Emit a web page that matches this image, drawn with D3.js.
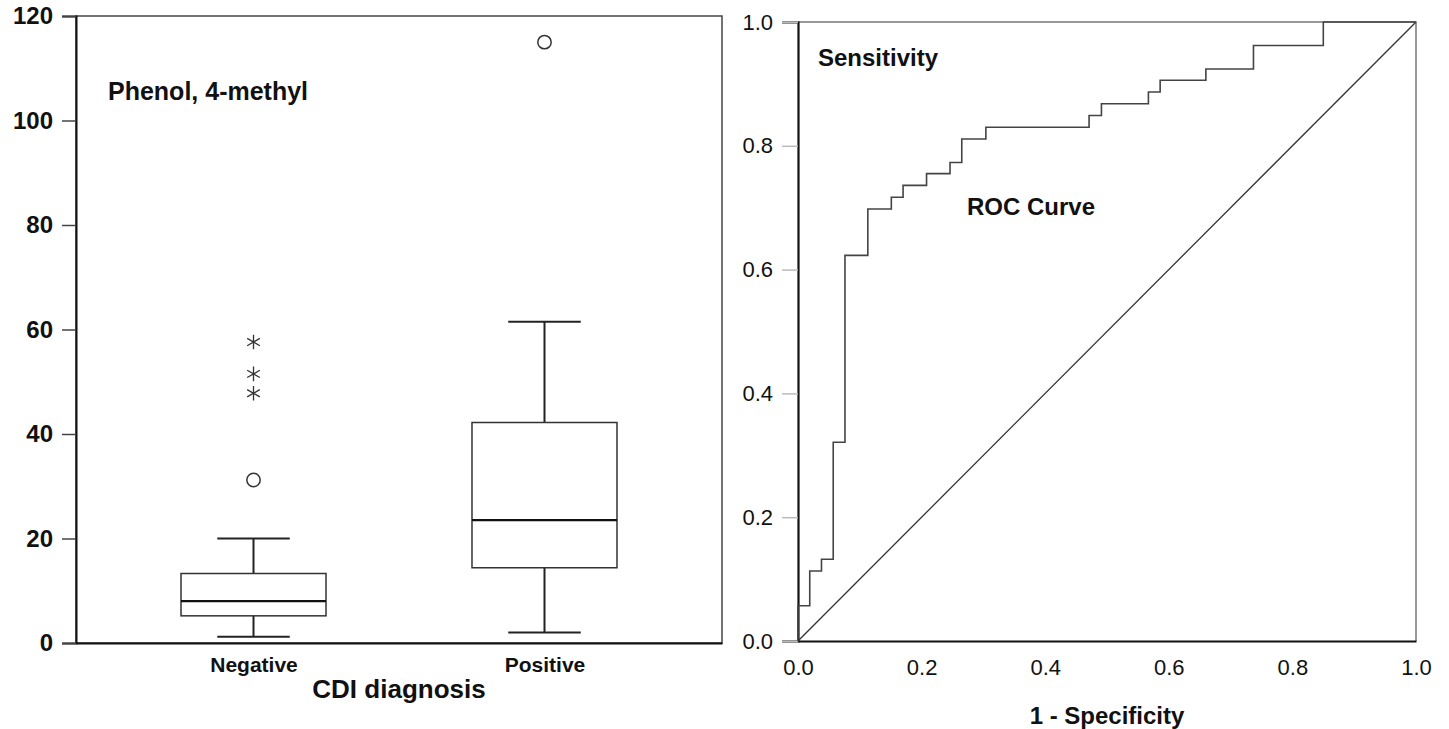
<!DOCTYPE html>
<html lang="en">
<head>
    <meta charset="UTF-8">
    <script src="https://cdn.jsdelivr.net/npm/d3@7"></script>
    <title>Phenol, 4-methyl: box plot and ROC curve</title>
    <style>
        body {
            margin: 0;
            background: white;
        }

        svg text {
            font-family: 'Liberation Sans', Arial, sans-serif;
            fill: #111;
        }
    </style>
</head>

<body>
<div class="chart"></div>

<script>
    // Box plot values (CDI diagnosis groups)
    const groups = ["Negative", "Positive"];
    const whiskerLow = [1.2, 2.0];
    const quartile1 = [5.2, 14.4];
    const medians = [8.0, 23.5];
    const quartile3 = [13.3, 42.2];
    const whiskerHigh = [20.0, 61.5];

    // Outliers: circles = outliers, stars = extremes
    const outlierGroup = ["Negative", "Negative", "Negative", "Negative", "Positive"];
    const outlierValue = [31.2, 47.8, 51.5, 57.6, 115.0];
    const outlierKind = ["circle", "star", "star", "star", "circle"];

    const boxTicks = [0, 20, 40, 60, 80, 100, 120];

    // ROC curve corners: each sensitivity level and the 1 - specificity where it ends
    const rocFpr = [0, 0.019, 0.038, 0.057, 0.076, 0.113, 0.151, 0.170, 0.208, 0.246, 0.265, 0.304,
        0.471, 0.491, 0.567, 0.586, 0.660, 0.737, 0.850, 1.0];
    const rocTpr = [0, 0.057, 0.113, 0.132, 0.321, 0.623, 0.698, 0.717, 0.736, 0.755, 0.773, 0.811,
        0.830, 0.849, 0.868, 0.887, 0.906, 0.924, 0.962, 1.0];

    const rocTicks = [0, 0.2, 0.4, 0.6, 0.8, 1.0];

    const width = 1449;
    const height = 729;

    const svg = d3.select(".chart").append("svg")
        .attr("width", width)
        .attr("height", height);

    /*----------------- [BOX PLOT] START -----------------*/
    const box = {left: 76, right: 722, top: 16, bottom: 643};

    const x1 = d3.scalePoint()
        .domain(groups)
        .range([box.left, box.right])
        .padding(0.61);

    const y1 = d3.scaleLinear()
        .domain([0, 120])
        .range([box.bottom, box.top]);

    const boxWidth = 145;

    // frame
    svg.append("rect")
        .attr("x", box.left)
        .attr("y", box.top)
        .attr("width", box.right - box.left)
        .attr("height", box.bottom - box.top)
        .attr("fill", "none")
        .attr("stroke", "#444")
        .attr("stroke-width", 1.5);

    const yAxis1 = svg.append("g")
        .attr("transform", `translate(${box.left},0)`)
        .call(d3.axisLeft(y1).tickValues(boxTicks).tickSize(14).tickPadding(9).tickFormat(d3.format("d")));
    yAxis1.select(".domain").attr("stroke", "#111").attr("stroke-width", 2);
    yAxis1.selectAll(".tick line").attr("stroke", "#444").attr("stroke-width", 1.5);
    yAxis1.selectAll(".tick text")
        .style("font-size", "24px")
        .style("font-weight", "bold");

    const xAxis1 = svg.append("g")
        .attr("transform", `translate(0,${box.bottom})`)
        .call(d3.axisBottom(x1).tickSize(0).tickPadding(14));
    xAxis1.select(".domain").attr("stroke", "#111").attr("stroke-width", 2);
    xAxis1.selectAll(".tick text")
        .style("font-size", "21px")
        .style("font-weight", "bold");

    const boxData = groups.map((g, i) => ({
        group: g, lo: whiskerLow[i], q1: quartile1[i], med: medians[i], q3: quartile3[i], hi: whiskerHigh[i]
    }));

    const boxes = svg.selectAll(".box")
        .data(boxData)
        .enter()
        .append("g")
        .attr("class", "box");

    // whisker stems
    boxes.append("line")
        .attr("x1", d => x1(d.group)).attr("x2", d => x1(d.group))
        .attr("y1", d => y1(d.lo)).attr("y2", d => y1(d.q1))
        .attr("stroke", "#222").attr("stroke-width", 2);
    boxes.append("line")
        .attr("x1", d => x1(d.group)).attr("x2", d => x1(d.group))
        .attr("y1", d => y1(d.q3)).attr("y2", d => y1(d.hi))
        .attr("stroke", "#222").attr("stroke-width", 2);

    // whisker caps
    [d => d.lo, d => d.hi].forEach(acc => {
        boxes.append("line")
            .attr("x1", d => x1(d.group) - boxWidth / 4).attr("x2", d => x1(d.group) + boxWidth / 4)
            .attr("y1", d => y1(acc(d))).attr("y2", d => y1(acc(d)))
            .attr("stroke", "#222").attr("stroke-width", 2);
    });

    boxes.append("rect")
        .attr("x", d => x1(d.group) - boxWidth / 2)
        .attr("y", d => y1(d.q3))
        .attr("width", boxWidth)
        .attr("height", d => y1(d.q1) - y1(d.q3))
        .attr("fill", "white")
        .attr("stroke", "#333")
        .attr("stroke-width", 1.5);

    boxes.append("line")
        .attr("x1", d => x1(d.group) - boxWidth / 2).attr("x2", d => x1(d.group) + boxWidth / 2)
        .attr("y1", d => y1(d.med)).attr("y2", d => y1(d.med))
        .attr("stroke", "#111").attr("stroke-width", 2.2);

    const outliers = outlierValue.map((v, i) => ({group: outlierGroup[i], value: v, kind: outlierKind[i]}));

    svg.selectAll(".outlier")
        .data(outliers)
        .enter()
        .append("path")
        .attr("class", "outlier")
        .attr("transform", d => `translate(${x1(d.group)},${y1(d.value)})`)
        .attr("d", d => d.kind === "circle"
            ? d3.symbol(d3.symbolCircle, 140)()
            : d3.symbol(d3.symbolAsterisk, 150)())
        .attr("fill", d => d.kind === "circle" ? "white" : "none")
        .attr("stroke", "#333")
        .attr("stroke-width", d => d.kind === "circle" ? 1.5 : 1.3);

    svg.append("text")
        .attr("x", 108)
        .attr("y", 100)
        .style("font-size", "25px")
        .style("font-weight", "bold")
        .text("Phenol, 4-methyl");

    svg.append("text")
        .attr("x", (box.left + box.right) / 2)
        .attr("y", 698)
        .attr("text-anchor", "middle")
        .style("font-size", "26px")
        .style("font-weight", "bold")
        .text("CDI diagnosis");
    /*----------------- [BOX PLOT] END -----------------*/


    /*----------------- [ROC CURVE] START -----------------*/
    const roc = {left: 798, right: 1416, top: 22, bottom: 641};

    const x2 = d3.scaleLinear().domain([0, 1]).range([roc.left, roc.right]);
    const y2 = d3.scaleLinear().domain([0, 1]).range([roc.bottom, roc.top]);

    // top and right border
    svg.append("path")
        .attr("d", `M${x2(0)},${y2(1)}H${x2(1)}V${y2(0)}`)
        .attr("fill", "none")
        .attr("stroke", "#777")
        .attr("stroke-width", 1.5);

    const yAxis2 = svg.append("g")
        .attr("transform", `translate(${roc.left},0)`)
        .call(d3.axisLeft(y2).tickValues(rocTicks).tickSize(16).tickPadding(9).tickFormat(d3.format(".1f")));
    yAxis2.select(".domain").attr("stroke", "#111").attr("stroke-width", 2.2);
    yAxis2.selectAll(".tick line").attr("stroke", "#bbb").attr("stroke-width", 1.5);
    yAxis2.selectAll(".tick text").style("font-size", "22px");

    const xAxis2 = svg.append("g")
        .attr("transform", `translate(0,${roc.bottom})`)
        .call(d3.axisBottom(x2).tickValues(rocTicks).tickSize(0).tickPadding(18).tickFormat(d3.format(".1f")));
    xAxis2.select(".domain").attr("stroke", "#111").attr("stroke-width", 2.2);
    xAxis2.selectAll(".tick text").style("font-size", "22px");

    // reference diagonal
    svg.append("path")
        .attr("d", d3.line()([[x2(0), y2(0)], [x2(1), y2(1)]]))
        .attr("stroke", "#333")
        .attr("stroke-width", 1.3)
        .attr("fill", "none");

    const rocPoints = rocFpr.map((f, i) => [f, rocTpr[i]]);

    svg.append("path")
        .datum(rocPoints)
        .attr("d", d3.line()
            .x(d => x2(d[0]))
            .y(d => y2(d[1]))
            .curve(d3.curveStepBefore))
        .attr("fill", "none")
        .attr("stroke", "#444")
        .attr("stroke-width", 1.6);

    svg.append("text")
        .attr("x", 818)
        .attr("y", 66)
        .style("font-size", "24px")
        .style("font-weight", "bold")
        .text("Sensitivity");

    svg.append("text")
        .attr("x", 967)
        .attr("y", 215)
        .style("font-size", "24px")
        .style("font-weight", "bold")
        .text("ROC Curve");

    svg.append("text")
        .attr("x", (roc.left + roc.right) / 2)
        .attr("y", 724)
        .attr("text-anchor", "middle")
        .style("font-size", "24px")
        .style("font-weight", "bold")
        .text("1 - Specificity");
    /*----------------- [ROC CURVE] END -----------------*/
</script>
</body>
</html>
